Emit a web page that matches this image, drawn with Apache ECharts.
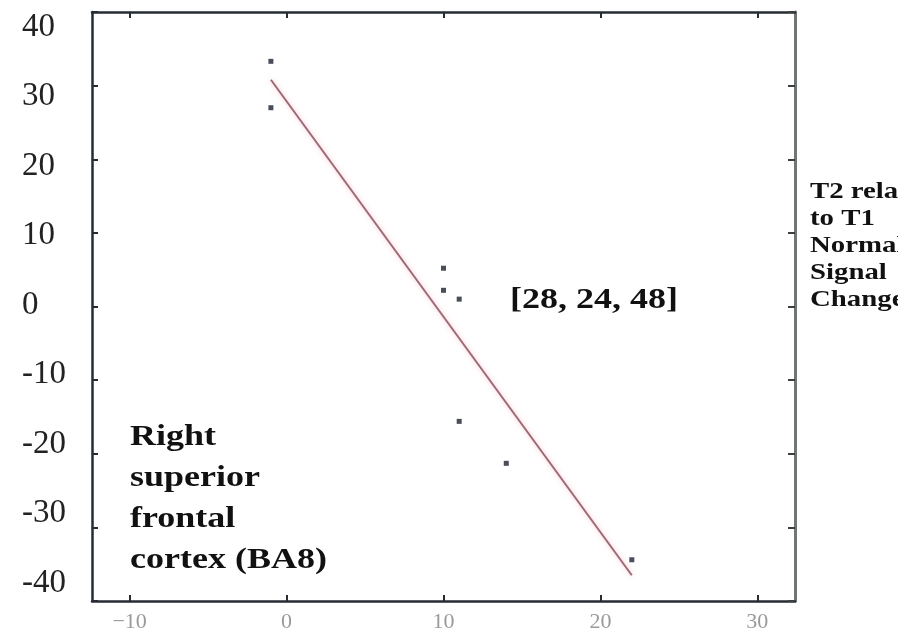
<!DOCTYPE html>
<html>
<head>
<meta charset="utf-8">
<title>Right superior frontal cortex (BA8)</title>
<script src="https://cdn.jsdelivr.net/npm/echarts@6/dist/echarts.min.js"></script>
<style>
  html, body { margin: 0; padding: 0; background: #ffffff; }
  #chart { width: 919px; height: 629px; }
</style>
</head>
<body>
<div id="chart"></div>
<script>
// Subject measurements: x value and T2-relative-to-T1 normalized signal change
const xValues = [-1, -1, 10, 10, 11, 11, 14, 22];
const yValues = [33.3, 27.0, 5.2, 2.2, 1.0, -15.6, -21.3, -34.4];

// Fitted regression line, end points
const fitX = [-1, 22];
const fitY = [30.8, -36.5];

// Axis ticks
const xTicks = [-10, 0, 10, 20, 30];
const yTicks = [-40, -30, -20, -10, 0, 10, 20, 30, 40];

const regionLines = ['Right', 'superior', 'frontal', 'cortex (BA8)'];
const coordText = '[28, 24, 48]';
const yNameLines = ['T2 relative', 'to T1', 'Normalized', 'Signal', 'Change'];

const points = xValues.map((x, i) => [x, yValues[i]]);
const fitLine = fitX.map((x, i) => [x, fitY[i]]);

const serif = '"Liberation Serif", "Times New Roman", serif';
const frameDark = '#262c33';

const chart = echarts.init(document.getElementById('chart'), null, { renderer: 'canvas' });

chart.setOption({
  animation: false,
  backgroundColor: '#ffffff',
  grid: {
    left: 92, top: 12, right: 124, bottom: 28,
    containLabel: false, outerBoundsMode: 'none'
  },
  xAxis: [
    {
      type: 'value', position: 'bottom', min: -12.4, max: 32.4,
      axisLine: { show: true, onZero: false, lineStyle: { color: frameDark, width: 2.5 } },
      axisTick: { show: true, inside: true, length: 6, customValues: xTicks, lineStyle: { color: frameDark, width: 2 } },
      axisLabel: {
        show: true, customValues: xTicks, margin: 10,
        color: '#9a9a9a', fontFamily: serif, fontSize: 22,
        formatter: v => String(v).replace('-', '\u2212')
      },
      splitLine: { show: false }
    },
    {
      type: 'value', position: 'top', min: -12.4, max: 32.4,
      axisLine: { show: true, onZero: false, lineStyle: { color: frameDark, width: 2.5 } },
      axisTick: { show: true, inside: true, length: 6, customValues: xTicks, lineStyle: { color: frameDark, width: 2 } },
      axisLabel: { show: false },
      splitLine: { show: false }
    }
  ],
  yAxis: [
    {
      // scale carrying the plotted values and the inner tick marks
      type: 'value', position: 'left', min: -40, max: 40, interval: 10,
      axisLine: { show: true, onZero: false, lineStyle: { color: frameDark, width: 2.5 } },
      axisTick: { show: true, inside: true, length: 6, lineStyle: { color: frameDark, width: 2 } },
      axisLabel: { show: false },
      splitLine: { show: false }
    },
    {
      // tick labels, set slightly closer together than the tick marks
      type: 'value', position: 'left', min: -42.6, max: 42.16,
      axisLine: { show: false },
      axisTick: { show: false },
      axisLabel: {
        show: true, margin: 70, align: 'left',
        color: '#222222', fontFamily: serif, fontSize: 33,
        customValues: yTicks
      },
      splitLine: { show: false }
    },
    {
      type: 'value', position: 'right', min: -40, max: 40, interval: 10,
      axisLine: { show: true, onZero: false, lineStyle: { color: '#6f7673', width: 3 } },
      axisTick: { show: true, inside: true, length: 7, lineStyle: { color: '#3a3f3f', width: 2 } },
      axisLabel: { show: false },
      splitLine: { show: false }
    }
  ],
  series: [
    {
      type: 'line',
      data: fitLine,
      xAxisIndex: 0, yAxisIndex: 0,
      symbol: 'none',
      lineStyle: {
        color: '#9a6c76', width: 2,
        shadowColor: 'rgba(255, 140, 170, 0.6)', shadowBlur: 5
      },
      z: 2
    },
    {
      type: 'scatter',
      data: points,
      xAxisIndex: 0, yAxisIndex: 0,
      symbol: 'rect',
      symbolSize: 5,
      itemStyle: { color: '#1d2232' },
      z: 3
    }
  ],
  graphic: [
    {
      type: 'text', x: 130, y: 417, scaleX: 1.2, z: 10,
      style: {
        text: regionLines.join('\n'),
        fontFamily: serif, fontWeight: 'bold', fontSize: 30, lineHeight: 41,
        fill: '#111111', verticalAlign: 'top', align: 'left'
      }
    },
    {
      type: 'text', x: 510, y: 300, scaleX: 1.2, z: 10,
      style: {
        text: coordText,
        fontFamily: serif, fontWeight: 'bold', fontSize: 30,
        fill: '#111111', verticalAlign: 'middle', align: 'left'
      }
    },
    {
      type: 'text', x: 810, y: 178, scaleX: 1.2, z: 10,
      style: {
        text: yNameLines.join('\n'),
        fontFamily: serif, fontWeight: 'bold', fontSize: 24, lineHeight: 27,
        fill: '#111111', verticalAlign: 'top', align: 'left'
      }
    },
    {
      // blank margin strip along the right edge of the figure
      type: 'rect', z: 20,
      shape: { x: 898, y: 0, width: 21, height: 629 },
      style: { fill: '#ffffff' }
    }
  ]
});
</script>
</body>
</html>
